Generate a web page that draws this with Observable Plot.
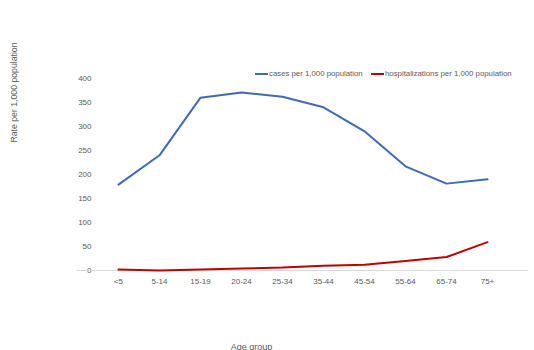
<!DOCTYPE html>
<html>
<head>
<meta charset="utf-8">
<script src="https://cdn.jsdelivr.net/npm/d3@7"></script>
<script src="https://cdn.jsdelivr.net/npm/@observablehq/plot@0.6"></script>
<style>
  html, body { margin: 0; padding: 0; background: #fff; }
  #wrap { position: relative; width: 534px; height: 350px; overflow: hidden; font-family: "Liberation Sans", Arial, sans-serif; }
  .leg { position: absolute; top: 69px; font-size: 7.8px; color: #595959; white-space: nowrap; display: flex; align-items: center; }
  .leg span.sw { display: inline-block; width: 13px; height: 2px; margin-right: 1px; }
</style>
</head>
<body>
<div id="wrap"></div>
<script>
const ageGroups = ["<5", "5-14", "15-19", "20-24", "25-34", "35-44", "45-54", "55-64", "65-74", "75+"];
const cases = [179, 240, 360, 371, 362, 340, 290, 217, 181, 190];
const hospitalizations = [2, 0, 2, 4, 6, 10, 12, 20, 28, 59];
const yTicks = [0, 50, 100, 150, 200, 250, 300, 350, 400];
const seriesNames = ["cases per 1,000 population", "hospitalizations per 1,000 population"];
const seriesColors = ["#4169b5", "#c00000"];

const rows = [];
ageGroups.forEach((g, i) => {
  rows.push({age: g, value: cases[i], series: seriesNames[0]});
  rows.push({age: g, value: hospitalizations[i], series: seriesNames[1]});
});

const chart = Plot.plot({
  width: 534,
  height: 350,
  marginLeft: 97,
  marginRight: 26,
  marginTop: 78,
  marginBottom: 80,
  style: {fontFamily: "Liberation Sans, Arial, sans-serif", fontSize: "8px", color: "#595959", background: "#fff"},
  x: {type: "point", domain: ageGroups, padding: 0.5, label: null},
  y: {domain: [0, 400], ticks: yTicks, label: null},
  color: {domain: seriesNames, range: seriesColors},
  marks: [
    Plot.axisY({ticks: yTicks, tickSize: 0, tickPadding: 6, label: null, fill: "#595959"}),
    Plot.axisX({tickSize: 0, tickPadding: 8, label: null, fill: "#595959"}),
    Plot.ruleY([0], {stroke: "#d9d9d9", strokeWidth: 1, insetLeft: -20.5, insetRight: -20.5}),
    Plot.line(rows, {x: "age", y: "value", stroke: "series", z: "series", strokeWidth: 2, curve: "linear"}),
    Plot.text(["Rate per 1,000 population"], {frameAnchor: "top-left", dx: -87, dy: 14, rotate: -90, text: d => d, fontSize: 8.7, fill: "#595959", textAnchor: "middle"}),
    Plot.text(["Age group"], {frameAnchor: "bottom-left", dx: 154, dy: 79, text: d => d, fontSize: 9, fill: "#595959", textAnchor: "middle"})
  ]
});

const wrap = document.getElementById("wrap");
wrap.appendChild(chart);

const legLeft = [255, 371];
seriesNames.forEach((name, i) => {
  const d = document.createElement("div");
  d.className = "leg";
  d.style.left = legLeft[i] + "px";
  const sw = document.createElement("span");
  sw.className = "sw";
  sw.style.background = seriesColors[i];
  d.appendChild(sw);
  d.appendChild(document.createTextNode(name));
  wrap.appendChild(d);
});
</script>
</body>
</html>
